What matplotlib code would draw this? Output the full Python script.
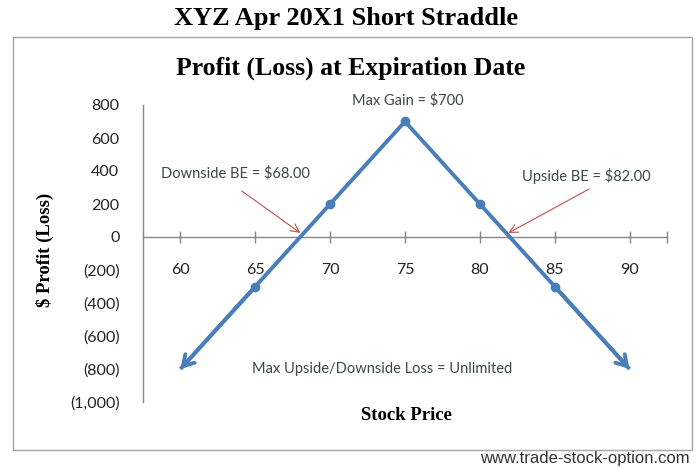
import matplotlib
matplotlib.use("Agg")
import matplotlib.pyplot as plt
from matplotlib.patches import Rectangle

# data
stock_price = [60, 65, 70, 75, 80, 85, 90]
profit_loss = [-800, -300, 200, 700, 200, -300, -800]
x_ticks = [60, 65, 70, 75, 80, 85, 90]
y_ticks = [800, 600, 400, 200, 0, -200, -400, -600, -800, -1000]
y_tick_labels = ["800", "600", "400", "200", "0", "(200)", "(400)", "(600)", "(800)", "(1,000)"]
downside_be = 68.0
upside_be = 82.0
max_gain = 700

W, H = 699, 468
LINE = "#4A7EBB"
TXT = "#3A4848"
SERIF = ["Liberation Serif", "DejaVu Serif"]
SANS = ["Lato", "DejaVu Sans"]

fig = plt.figure(figsize=(W / 100, H / 100), dpi=100)
ax = fig.add_axes([143 / W, 1 - 402 / H, 524 / W, 297 / H])

ax.set_xlim(57.5, 92.5)
ax.set_ylim(-1000, 800)

# axes lines
for s in ["top", "right"]:
    ax.spines[s].set_visible(False)
ax.spines["bottom"].set_position(("data", 0))
ax.spines["bottom"].set_color("#868686")
ax.spines["left"].set_color("#868686")
ax.spines["bottom"].set_linewidth(1.0)
ax.spines["left"].set_linewidth(1.0)

ax.set_xticks(x_ticks)
ax.set_xticklabels([str(t) for t in x_ticks], fontfamily=SANS, fontsize=11.5, color="#222222")
ax.set_xticks([92.5], minor=True)
ax.tick_params(axis="x", which="both", direction="inout", length=8, width=1.0,
               color="#868686", pad=15)
ax.set_yticks(y_ticks)
ax.set_yticklabels(y_tick_labels, fontfamily=SANS, fontsize=11.5, color="#222222")
ax.tick_params(axis="y", length=0, pad=17)

# payoff line
ax.plot(stock_price, profit_loss, color=LINE, lw=2.8, marker="o", ms=6,
        markevery=[1, 2, 3, 4, 5], solid_capstyle="butt", zorder=3)
# arrow heads at both ends
for i0, i1 in [(1, 0), (-2, -1)]:
    ax.annotate("", xy=(stock_price[i1], profit_loss[i1]),
                xytext=(stock_price[i0], profit_loss[i0]),
                arrowprops=dict(arrowstyle="->,head_length=0.75,head_width=0.45",
                                color=LINE, lw=2.8, shrinkA=0, shrinkB=0),
                zorder=3)

# annotations
ax.text(75.2, 830, f"Max Gain = ${max_gain}", ha="center", va="center",
        fontfamily=SANS, fontsize=10.5, color=TXT)
ax.text(63.7, 388, f"Downside BE = ${downside_be:.2f}", ha="center", va="center",
        fontfamily=SANS, fontsize=10.5, color=TXT)
ax.text(87.1, 370, f"Upside BE = ${upside_be:.2f}", ha="center", va="center",
        fontfamily=SANS, fontsize=10.5, color=TXT)
ax.text(73.5, -800, "Max Upside/Downside Loss = Unlimited", ha="center", va="center",
        fontfamily=SANS, fontsize=10.5, color=TXT)

red = dict(arrowstyle="->,head_length=0.6,head_width=0.3", color="#C0504D", lw=0.8,
           shrinkA=0, shrinkB=0)
ax.annotate("", xy=(downside_be, 25), xytext=(64.1, 279), arrowprops=red)
ax.annotate("", xy=(upside_be - 0.1, 24), xytext=(87.3, 291), arrowprops=red)

# chart frame
fig.patches.append(Rectangle((13 / W, 1 - 450 / H), 679 / W, 413 / H,
                             transform=fig.transFigure, fill=False,
                             edgecolor="#A6A6A6", lw=1.0))

# titles and labels
fig.text(346 / W, 1 - 18 / H, "XYZ Apr 20X1 Short Straddle", ha="center", va="center",
         fontfamily=SERIF, fontweight="bold", fontsize=19)
fig.text(351 / W, 1 - 68 / H, "Profit (Loss) at Expiration Date", ha="center", va="center",
         fontfamily=SERIF, fontweight="bold", fontsize=18.5)
fig.text(45 / W, 1 - 250 / H, "$ Profit (Loss)", ha="center", va="center", rotation=90,
         fontfamily=SERIF, fontweight="bold", fontsize=13.5)
fig.text(406 / W, 1 - 415 / H, "Stock Price", ha="center", va="center",
         fontfamily=SERIF, fontweight="bold", fontsize=13.5)
fig.text(690 / W, 1 - 458 / H, "www.trade-stock-option.com", ha="right", va="center",
         fontfamily=["Liberation Sans Narrow", "Liberation Sans", "DejaVu Sans"],
         fontsize=12, color="#333333")

plt.savefig("out.png", dpi=100)
